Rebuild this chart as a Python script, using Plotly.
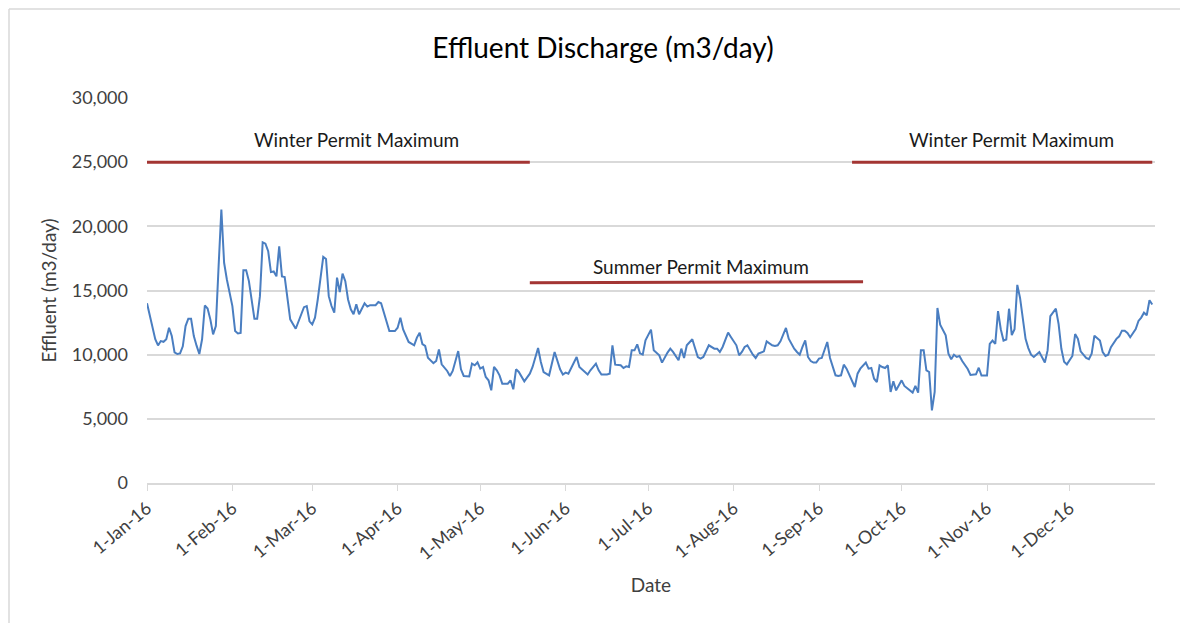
import pandas as pd
import plotly.graph_objects as go

# Day offsets from 1-Jan-2016 and effluent readings (m3/day)
day_offsets = [0, 1, 2, 3, 4, 5, 6, 7, 8, 9, 10, 11, 12, 13, 14, 15, 16, 17, 18, 19,
               20, 21, 22, 23, 24, 25, 26, 27, 28, 29, 31, 32, 33, 34, 35, 36, 37, 39, 40, 41,
               42, 43, 44, 45, 46, 47, 48, 49, 50, 51, 52, 54, 56, 57, 58, 59, 60, 61, 62, 64,
               65, 66, 67, 68, 69, 70, 71, 72, 73, 74, 75, 76, 77, 78, 79, 80, 81, 83, 84, 85,
               87, 88, 90, 91, 92, 93, 95, 97, 98, 99, 100, 101, 102, 104, 105, 106, 107, 109, 110, 111,
               113, 114, 115, 117, 118, 119, 120, 121, 122, 123, 124, 125, 126, 127, 128, 129, 131, 132, 133, 134,
               135, 137, 139, 140, 142, 143, 144, 146, 148, 149, 150, 151, 152, 153, 156, 157, 158, 160, 161, 163,
               164, 165, 167, 168, 169, 170, 172, 173, 174, 175, 176, 177, 178, 179, 180, 181, 183, 184, 186, 187,
               189, 190, 191, 193, 194, 195, 196, 198, 199, 200, 201, 202, 204, 206, 207, 208, 209, 210, 211, 212,
               214, 215, 216, 217, 218, 220, 221, 222, 224, 225, 227, 228, 229, 230, 232, 233, 235, 236, 237, 238,
               239, 240, 241, 242, 243, 244, 245, 247, 248, 250, 251, 252, 253, 254, 255, 257, 258, 259, 261, 262,
               263, 264, 265, 266, 267, 268, 269, 270, 271, 272, 273, 274, 275, 277, 278, 279, 280, 281, 282, 283,
               284, 285, 286, 287, 288, 290, 291, 292, 293, 294, 295, 296, 297, 298, 299, 301, 302, 303, 305, 306,
               307, 308, 309, 310, 311, 312, 313, 314, 315, 316, 317, 319, 320, 321, 322, 324, 326, 327, 328, 330,
               331, 332, 333, 334, 336, 337, 338, 339, 341, 342, 343, 344, 346, 347, 348, 349, 350, 352, 353, 354,
               355, 356, 357, 359, 360, 361, 362, 363, 364, 365]
effluent = [14000, 13000, 11970, 11200, 10720, 11060, 11000, 11200, 12100, 11450, 10180, 10050, 10100, 10650, 12230, 12800, 12800, 11450, 10700, 10050,
            11200, 13830, 13600, 12750, 11580, 12230, 16900, 21300, 17160, 15860, 13780, 11840, 11650, 11700, 16580, 16580, 15730, 12800, 12800, 14560,
            18760, 18650, 18060, 16430, 16480, 16100, 18450, 16100, 16050, 14560, 12750, 12020, 13060, 13700, 13790, 12600, 12360, 12880, 14300, 17620,
            17460, 14560, 13790, 13270, 16000, 14870, 16320, 15730, 14300, 13530, 13150, 13920, 13150, 13530, 14000, 13750, 13860, 13860, 14100, 14000,
            12490, 11840, 11840, 12100, 12880, 11970, 10990, 10730, 11330, 11710, 10820, 10680, 9770, 9340, 9510, 10410, 9250, 8730, 8340, 8730,
            10280, 8860, 8340, 8300, 9300, 9170, 9400, 8910, 9040, 8260, 8000, 7220, 9040, 8780, 8390, 7740, 7740, 8000, 7300, 8860,
            8650, 7920, 8520, 9040, 10520, 9430, 8650, 8390, 10210, 9430, 8860, 8450, 8600, 8520, 9820, 9040, 8860, 8450, 8780, 9300,
            8780, 8450, 8450, 8520, 10730, 9220, 9170, 8960, 9090, 9040, 10340, 10340, 10800, 10100, 10000, 11120, 11950, 10340, 9950, 9380,
            10160, 10470, 10210, 9560, 10470, 9740, 10730, 11200, 10500, 9820, 9690, 9820, 10730, 10470, 10470, 10210, 10600, 11120, 11720, 11380,
            10730, 9950, 10210, 10600, 10730, 10000, 9740, 10080, 10260, 11040, 10730, 10680, 10730, 11040, 12080, 11250, 10470, 10210, 10000, 10600,
            11120, 9820, 9500, 9380, 9380, 9690, 9740, 10990, 9740, 8390, 8340, 8390, 9220, 8910, 8450, 7480, 8520, 8910, 9380, 8910,
            8960, 8130, 7870, 9170, 9040, 8960, 9170, 7090, 7920, 7220, 7610, 8000, 7560, 7220, 7040, 7560, 7040, 10340, 10340, 8780,
            8650, 5660, 7090, 13640, 12340, 11510, 10080, 9640, 10000, 9820, 9900, 9500, 9220, 8880, 8420, 8470, 8980, 8370, 8370, 10840,
            11100, 10840, 13390, 11980, 11100, 11180, 13580, 11530, 11980, 15440, 14420, 11230, 10510, 10000, 9820, 10200, 9390, 10330, 13010, 13580,
            12380, 10460, 9440, 9240, 9900, 11610, 11230, 10260, 9750, 9650, 10080, 11480, 11100, 10200, 9900, 10000, 10590, 11230, 11430, 11870,
            11870, 11690, 11360, 11990, 12630, 12890, 13270, 13070, 14240, 13910]

# Permit maximum segments
winter1_dates = ["2016-01-01", "2016-05-19"]
winter1_vals = [25000, 25000]
winter2_dates = ["2016-09-13", "2016-12-31"]
winter2_vals = [25000, 25000]
summer_dates = ["2016-05-19", "2016-09-17"]
summer_vals = [15600, 15680]

month_ticks = pd.date_range("2016-01-01", "2016-12-01", freq="MS")
y_ticks = [0, 5000, 10000, 15000, 20000, 25000, 30000]

dates = pd.Timestamp("2016-01-01") + pd.to_timedelta(day_offsets, unit="D")

FONT = "Lato, 'Open Sans', sans-serif"
RED = "#A33533"
TXT = "#404040"

fig = go.Figure()
fig.add_trace(go.Scatter(x=dates, y=effluent, mode="lines",
                         line=dict(color="#4A7EC1", width=2), showlegend=False))
for xs, ys in [(winter1_dates, winter1_vals), (winter2_dates, winter2_vals), (summer_dates, summer_vals)]:
    fig.add_trace(go.Scatter(x=pd.to_datetime(xs), y=ys, mode="lines",
                             line=dict(color=RED, width=3), showlegend=False))

ann_font = dict(family=FONT, size=19, color="#1a1a1a")
fig.add_annotation(x=pd.Timestamp("2016-03-17").timestamp() * 1000, y=25000, text="Winter Permit Maximum",
                   showarrow=False, yshift=23, font=ann_font)
fig.add_annotation(x=pd.Timestamp("2016-11-10").timestamp() * 1000, y=25000, text="Winter Permit Maximum",
                   showarrow=False, yshift=23, font=ann_font)
fig.add_annotation(x=pd.Timestamp("2016-07-20").timestamp() * 1000, y=15650, text="Summer Permit Maximum",
                   showarrow=False, yshift=16, font=ann_font)

W, H = 1180, 615
L, R, T, B = 139, 33, 90, 140
plot_h = H - T - B
plot_w = W - L - R

fig.update_layout(
    width=W, height=H,
    margin=dict(l=L, r=R, t=T, b=B),
    paper_bgcolor="white", plot_bgcolor="white",
    font=dict(family=FONT, size=19, color=TXT),
    title=dict(text="Effluent Discharge (m3/day)", x=595 / W, xanchor="center", y=1 - 40 / H, yanchor="middle",
               font=dict(family=FONT, size=28, color="#000000")),
    xaxis=dict(
        type="date",
        range=[pd.Timestamp("2016-01-01"), pd.Timestamp("2017-01-01")],
        tickvals=month_ticks, tickformat="%-d-%b-%y", tickangle=-40,
        ticks="outside", ticklen=6, tickcolor="#D9D9D9",
        showline=True, linecolor="#D9D9D9", linewidth=1.5,
        showgrid=False, zeroline=False,
        tickfont=dict(family=FONT, size=18, color=TXT),
        title=dict(text="Date", font=dict(family=FONT, size=19, color=TXT), standoff=16),
    ),
    yaxis=dict(
        range=[0, 30000], tickvals=y_ticks, tickformat=",",
        showgrid=True, gridcolor="#D9D9D9", gridwidth=1.5,
        zeroline=False, showline=False, ticks="", ticklabelstandoff=18,
        tickfont=dict(family=FONT, size=18, color=TXT),
        title=dict(text="Effluent (m3/day)", font=dict(family=FONT, size=19, color=TXT), standoff=10),
    ),
    shapes=[
        dict(type="line", xref="paper", yref="paper", x0=(1 - L) / plot_w, x1=(W - L) / plot_w,
             y0=(plot_h + T - 1) / plot_h, y1=(plot_h + T - 1) / plot_h,
             line=dict(color="#D9D9D9", width=1.5)),
        dict(type="line", xref="paper", yref="paper", x0=(1 - L) / plot_w, x1=(1 - L) / plot_w,
             y0=(plot_h + T - 1) / plot_h, y1=-B / plot_h,
             line=dict(color="#D9D9D9", width=1.5)),
    ],
)

fig.write_html("out.html")
